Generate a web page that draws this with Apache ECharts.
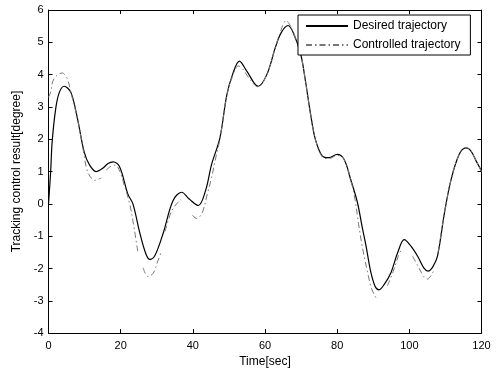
<!DOCTYPE html>
<html>
<head>
<meta charset="utf-8">
<script src="https://cdn.jsdelivr.net/npm/echarts@6/dist/echarts.min.js"></script>
<style>
html,body{margin:0;padding:0;background:#fff;}
#chart{width:497px;height:373px;}
</style>
</head>
<body>
<div id="chart"></div>
<script>
// Desired trajectory (solid)
var desiredT = [0,0.6,1,2,3,4.3,6.2,8,9.9,11.4,13.2,15,16.5,17.9,19.7,22,23.4,25.3,27,28.1,29.5,31.8,34.5,36.9,39,41.5,43.5,45.2,47.5,49.4,51,52.9,55,58.1,60.5,62.9,64.5,66.4,68,69.9,71.2,72.6,74,75.9,77.7,80,81.9,83.7,85.6,86.9,88,89.3,90.5,91.6,93,94.9,96.8,98.6,100.4,102.3,104,105.2,106.5,107.8,109.7,111.5,113.8,115.7,117,118.5,120];
var desiredY = [0,1.0,1.9,2.95,3.45,3.64,3.45,2.65,1.6,1.2,1.0,1.1,1.25,1.3,1.15,0.3,0.0,-0.9,-1.55,-1.72,-1.6,-0.9,0.1,0.36,0.15,-0.05,0.4,1.22,2.04,3.36,4.0,4.42,4.1,3.64,4.0,4.85,5.3,5.52,5.25,4.63,3.81,2.8,1.98,1.48,1.43,1.53,1.38,0.77,0.05,-0.7,-1.3,-2.1,-2.55,-2.66,-2.5,-2.13,-1.5,-1.11,-1.3,-1.62,-1.98,-2.08,-1.95,-1.62,-0.3,0.72,1.53,1.73,1.65,1.33,1.02];

// Controlled trajectory (dash-dot, drawn in broken pieces; null = gap)
var controlledT = [0,0.6,1.5,3.8,5.2,6.2,8,9.5,10.5,11.5,12.8,14.6,15.3,16,17.4,18.5,19.8,20.6,22.5,23.8,24.8,25.5,26.2,27.6,29,30.2,31.3,31.8,32.3,34,35.5,36.8,38.3,39.9,41,42.5,44,45.2,46.5,47.5,49.4,51,52.6,54,55.5,58.1,60.5,62.9,64.5,65.8,67.5,69.9,71.2,72.6,74,75.9,77.7,80,81.9,83.7,85,85.9,87,88.2,89.3,90.2,91.1,92.5,93.9,95.5,97,98,99.5,100.9,102.5,104,105,106.9,107.4,108,109.7,111.5,113.8,115.7,117,118.5,120];
var controlledY = [3.3,3.46,3.87,4.05,3.87,3.45,2.65,1.75,1.12,0.85,0.73,0.8,null,1.05,1.17,1.2,1.0,0.72,0.0,-0.8,-1.52,null,-1.98,-2.25,-2.15,-1.8,-1.47,null,-0.85,-0.25,0.0,0.15,null,-0.35,-0.45,-0.3,0.3,0.82,1.5,2.0,3.36,3.95,4.27,4.15,3.9,3.62,4.0,4.85,5.4,5.67,5.4,4.63,3.81,2.8,1.98,1.45,1.4,1.5,1.38,0.77,0.1,-0.6,-1.35,-2.0,-2.54,-2.8,-2.96,null,-2.54,-2.1,-1.6,-1.37,null,-1.62,-1.95,-2.25,-2.33,-2.03,null,-1.5,-0.3,0.72,1.53,1.75,1.65,1.33,1.0];

var xTicks = [0,20,40,60,80,100,120];
var yTicks = [-4,-3,-2,-1,0,1,2,3,4,5,6];

function pairs(ts, ys){
  var out = [];
  for (var i = 0; i < ts.length; i++) out.push([ts[i], ys[i] === null ? '-' : ys[i]]);
  return out;
}

var FONT = 'Liberation Sans, Arial, sans-serif';
var chart = echarts.init(document.getElementById('chart'), null, {renderer:'canvas'});
var axisCommon = {
  axisLine:{show:true,onZero:false,lineStyle:{color:'#000',width:1}},
  axisTick:{show:true,inside:true,length:4,lineStyle:{color:'#000'}},
  splitLine:{show:false}
};
chart.setOption({
  animation:false,
  backgroundColor:'#fff',
  grid:{left:48.5,right:15.5,top:10,bottom:36,containLabel:false},
  legend:{
    left:298, top:15, orient:'vertical',
    itemWidth:42, itemHeight:10, itemGap:7,
    padding:[5,10,4,7],
    borderColor:'#000', borderWidth:1, backgroundColor:'#fff',
    itemStyle:{opacity:0},
    textStyle:{fontFamily:FONT,fontSize:12,color:'#000'},
    data:['Desired trajectory','Controlled trajectory']
  },
  xAxis:[
    Object.assign({
      type:'value', min:xTicks[0], max:xTicks[xTicks.length-1], interval:20, position:'bottom',
      name:'Time[sec]', nameLocation:'middle', nameGap:22,
      nameTextStyle:{fontFamily:FONT,fontSize:12,color:'#000'},
      axisLabel:{fontFamily:FONT,fontSize:11,color:'#000',margin:7}
    }, axisCommon),
    Object.assign({
      type:'value', min:xTicks[0], max:xTicks[xTicks.length-1], interval:20, position:'top',
      axisLabel:{show:false}
    }, axisCommon)
  ],
  yAxis:[
    Object.assign({
      type:'value', min:yTicks[0], max:yTicks[yTicks.length-1], interval:1, position:'left',
      name:'Tracking control result[degree]', nameLocation:'middle', nameGap:19,
      nameTextStyle:{fontFamily:FONT,fontSize:12,color:'#000'},
      axisLabel:{fontFamily:FONT,fontSize:11,color:'#000',margin:5}
    }, axisCommon),
    Object.assign({
      type:'value', min:yTicks[0], max:yTicks[yTicks.length-1], interval:1, position:'right',
      axisLabel:{show:false}
    }, axisCommon)
  ],
  series:[
    {
      name:'Desired trajectory', type:'line', xAxisIndex:0, yAxisIndex:0,
      data:pairs(desiredT, desiredY), smooth:0.35, symbol:'none',
      lineStyle:{color:'#000',width:1.2,type:'solid'}, itemStyle:{color:'#000'}
    },
    {
      name:'Controlled trajectory', type:'line', xAxisIndex:0, yAxisIndex:0,
      data:pairs(controlledT, controlledY), smooth:0.35, symbol:'none', connectNulls:false,
      lineStyle:{color:'#777',width:1,type:[6,3,1.5,3]}, itemStyle:{color:'#777'}
    }
  ]
});
</script>
</body>
</html>
